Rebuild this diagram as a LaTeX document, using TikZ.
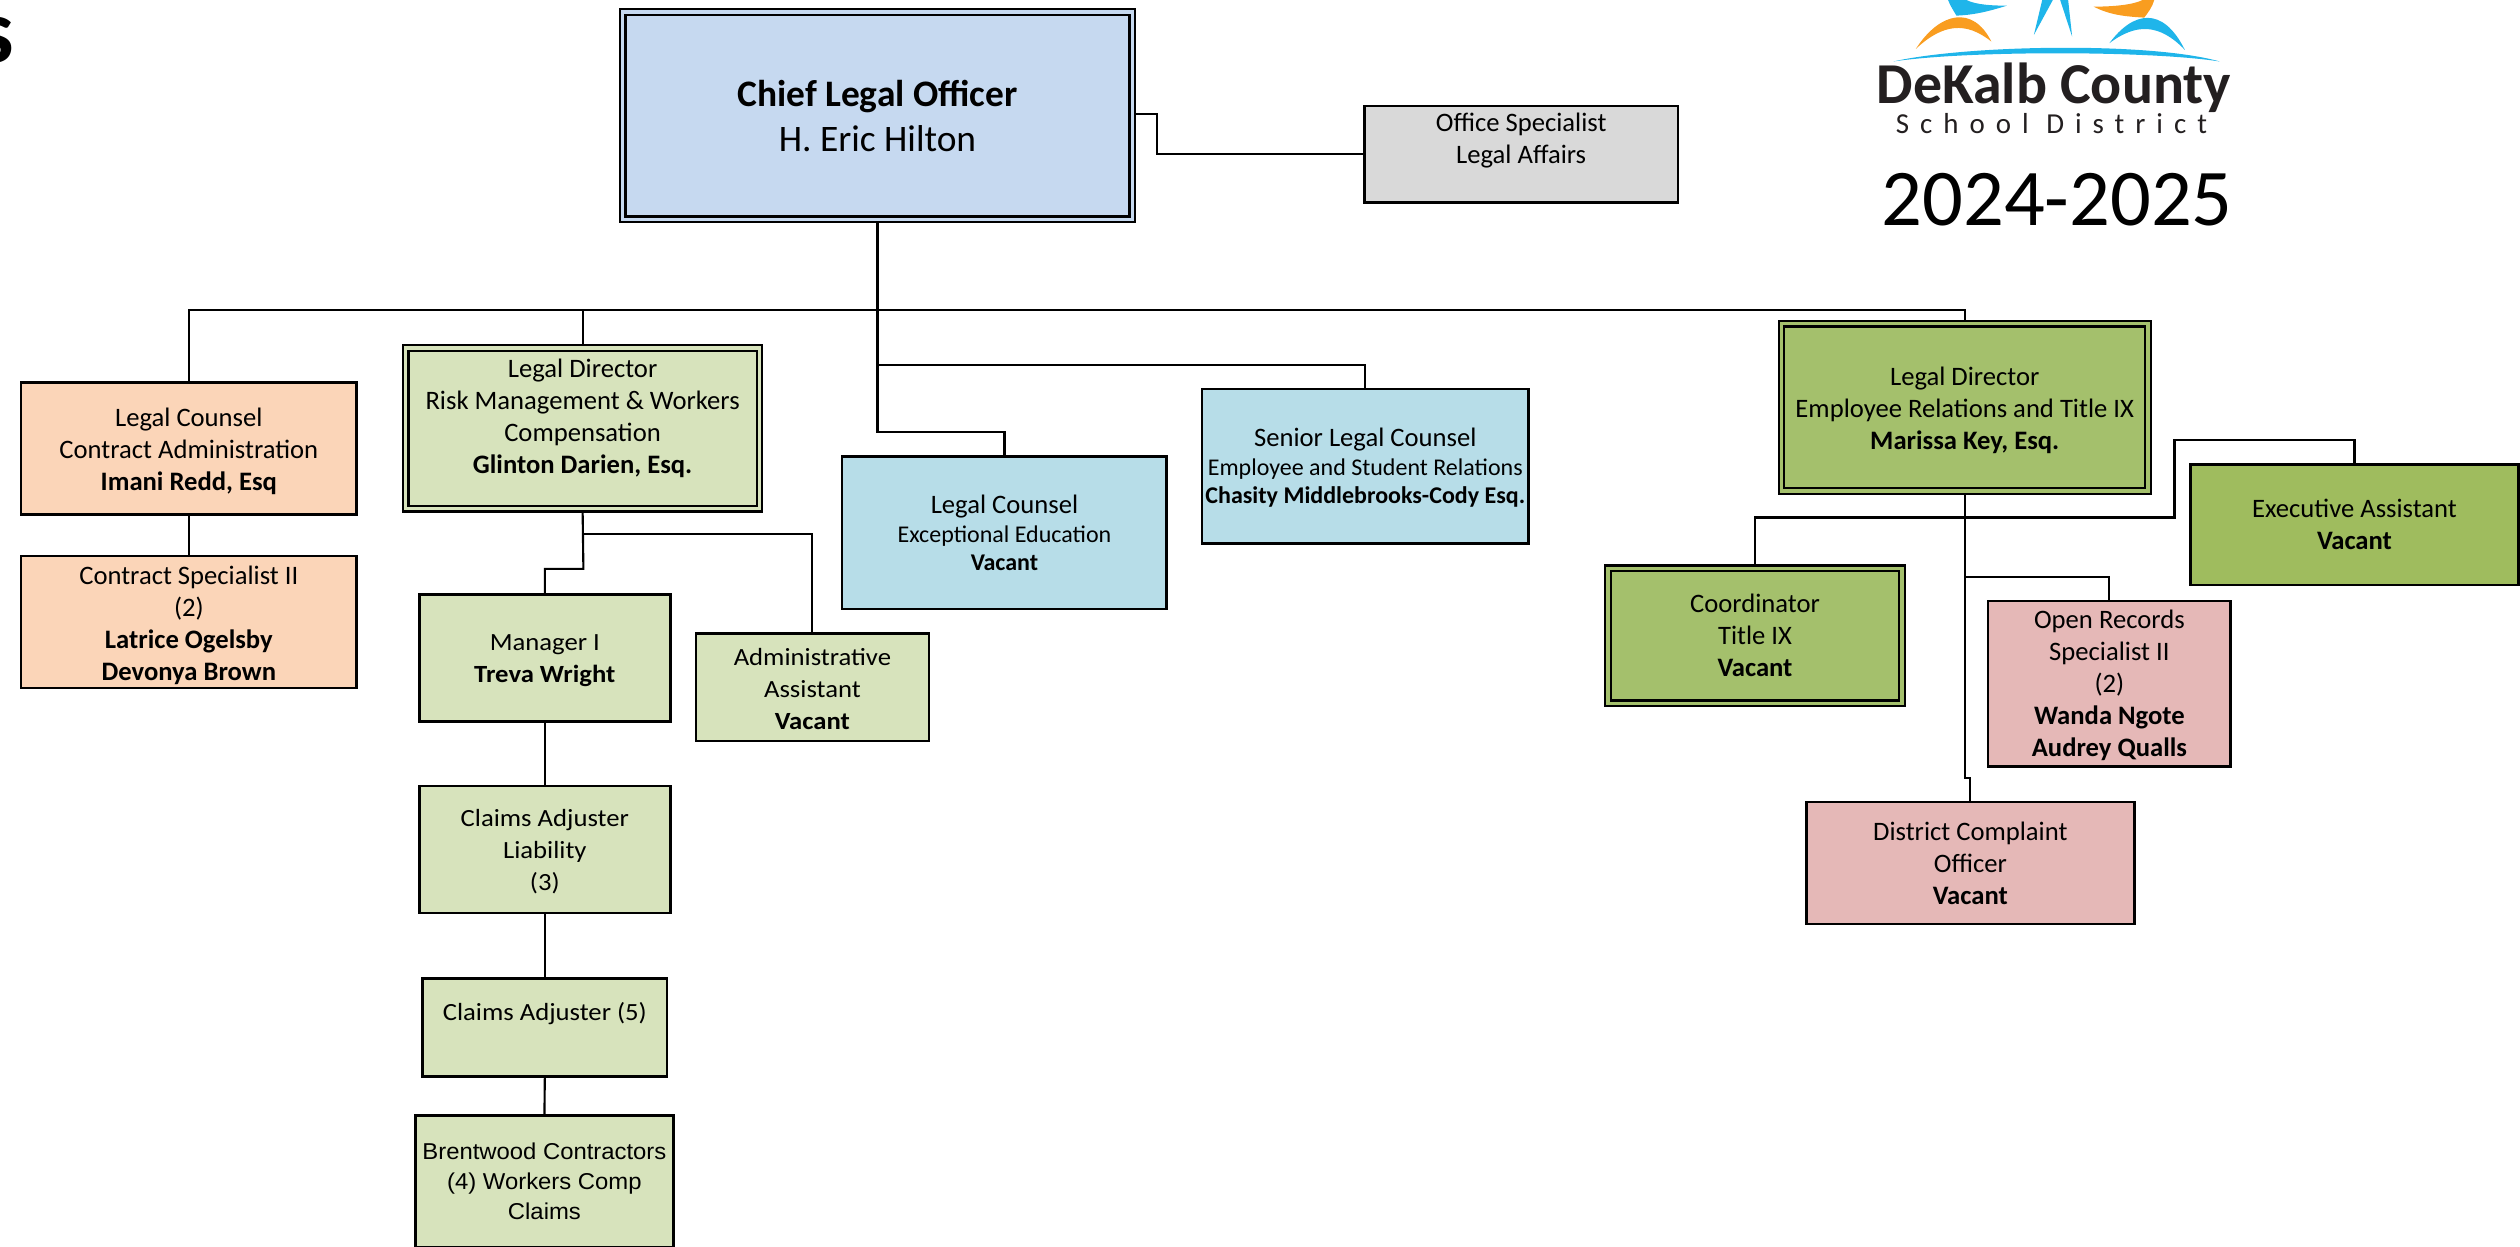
\documentclass[tikz,border=0pt]{standalone}
\usepackage{fontspec}
\setmainfont{Carlito}
\newfontfamily\widefont[FakeStretch=1.08]{Carlito}
\newfontfamily\arialwide[FakeStretch=1.04]{Liberation Sans}
\newfontfamily\logosp[LetterSpace=38]{Carlito}
\usetikzlibrary{backgrounds}
\definecolor{cblue}{HTML}{C6D9F0}
\definecolor{cgray}{HTML}{D9D9D9}
\definecolor{corange}{HTML}{FBD5B8}
\definecolor{clgreen}{HTML}{D7E3BC}
\definecolor{csky}{HTML}{B7DDE8}
\definecolor{cgreen}{HTML}{A4C06C}
\definecolor{cgreenb}{HTML}{9FBC5E}
\definecolor{cpink}{HTML}{E5B8B7}
\definecolor{logoblue}{HTML}{1FB5EA}
\definecolor{logoorange}{HTML}{F99D20}
\definecolor{logotext}{HTML}{231F20}
\newcommand\fs[1]{\fontsize{#1}{9.07}\selectfont}
\newcommand\tpa{\rule{0pt}{6.1pt}}
\newcommand\tpb{\rule{0pt}{7pt}}
\newcommand\bx[7]{%
  \pgfmathsetmacro\wa{(#5-#3)*0.016}%
  \pgfmathsetmacro\ha{(#6-#4)*0.016}%
  \node[box,#2,minimum width=\wa cm,minimum height=\ha cm] (#1) at ({(#3+#5)/2},{(#4+#6)/2}) {#7};}
\tikzset{
  box/.style={draw=black,line width=0.75pt,inner sep=0pt,outer sep=0pt,align=center,text=black,font=\fs{7.55}},
  dbl/.style={line width=0.65pt,double distance=0.9pt},
  link/.style={draw=black,line width=0.6pt},
  widetext/.style={font=\widefont\fs{7.0}}
}
\begin{document}
\begin{tikzpicture}[x=0.016cm,y=-0.016cm]
\useasboundingbox (0,0) rectangle (1568,775.3);
\clip (0,0) rectangle (1568,775.3);
% heading fragment
\node[inner sep=0pt,anchor=base east,font=\bfseries\fontsize{26}{30}\selectfont] (headfrag) at (9,39) {s};
% boxes
\bx{clo}{dbl,fill=cblue,double=cblue,font=\fs{10.6}\setlength{\baselineskip}{12.7pt}}{387.5}{7.5}{704.5}{136.5}{\textbf{Chief Legal Officer}\\[0pt]H. Eric Hilton}
\bx{off}{fill=cgray}{849}{66}{1044}{126}{Office Specialist\\Legal Affairs\\\mbox{}}
\bx{ca}{fill=corange}{13}{238}{222}{320}{\tpb Legal Counsel\\Contract Administration\\\textbf{Imani Redd, Esq}}
\bx{cs}{fill=corange}{13}{346}{222}{428}{\tpb Contract Specialist II\\(2)\\\textbf{Latrice Ogelsby}\\\textbf{Devonya Brown}}
\bx{ldr}{dbl,fill=clgreen,double=clgreen}{252.5}{216.5}{472.5}{316.5}{Legal Director\\Risk Management \& Workers\\Compensation\\\textbf{Glinton Darien, Esq.}\\[-2pt]\mbox{}}
\bx{mgr}{fill=clgreen,widetext}{261}{370}{417}{449}{\tpa Manager I\\\textbf{Treva Wright}}
\bx{adm}{fill=clgreen,widetext}{433}{394}{578}{461}{\tpa Administrative\\Assistant\\\textbf{Vacant}}
\bx{cal}{fill=clgreen,widetext}{261}{489}{417}{568}{\tpa Claims Adjuster\\Liability\\(3)}
\bx{cad}{fill=clgreen,widetext}{263}{609}{415}{670}{Claims Adjuster (5)\\\mbox{}}
\bx{bre}{fill=clgreen,font=\arialwide\fontsize{6.5}{8.4}\selectfont}{258.5}{694}{419}{776}{Brentwood Contractors\\(4) Workers Comp\\Claims}
\bx{lce}{fill=csky}{524}{284}{726}{379}{Legal Counsel\\[-.7pt]{\fs{6.8}Exceptional Education}\\[-1.2pt]{\fs{6.8}\textbf{Vacant}}}
\bx{slc}{fill=csky}{748}{242}{951}{338}{\tpa Senior Legal Counsel\\[-1pt]{\fs{6.8}Employee and Student Relations}\\[-1.2pt]{\fs{6.8}\textbf{Chasity Middlebrooks-Cody Esq.}}}
\bx{lde}{dbl,fill=cgreen,double=cgreen}{1108.5}{201.5}{1336.5}{305.5}{\tpb Legal Director\\Employee Relations and Title IX\\\textbf{Marissa Key, Esq.}}
\bx{exa}{fill=cgreenb}{1363}{289}{1567}{364}{Executive Assistant\\\textbf{Vacant}}
\bx{cor}{dbl,fill=cgreen,double=cgreen}{1000.5}{353.5}{1183.5}{437.5}{Coordinator\\Title IX\\\textbf{Vacant}}
\bx{ors}{fill=cpink}{1237}{374}{1388}{477}{\tpa Open Records\\Specialist II\\(2)\\\textbf{Wanda Ngote}\\\textbf{Audrey Qualls}}
\bx{dco}{fill=cpink}{1124}{499}{1328}{575}{District Complaint\\Officer\\\textbf{Vacant}}
% junctions
\coordinate (busy) at (546,193);
\coordinate (jslc) at (546,227);
\coordinate (jlce) at (546,269);
\coordinate (joffa) at (720,71);
\coordinate (joffb) at (720,96);
\coordinate (jmgr) at (363,354);
\coordinate (jmgrb) at (339,354);
\coordinate (jadm) at (363,332);
\coordinate (jors) at (1222.5,359);
\coordinate (jbus) at (1222.5,322);
\coordinate (jexa) at (1353,322);
\coordinate (jexb) at (1353,274);
\coordinate (jdco) at (1222.5,484);
\coordinate (jdcob) at (1226,484);
\begin{pgfonlayer}{background}
\draw[link] (clo.south) -- (jlce) -| (lce.north);
\draw[link] (ca.north) |- (busy);
\draw[link] (ldr.north) |- (busy);
\draw[link] (lde.north) |- (busy);
\draw[link] (slc.north) |- (jslc);
\draw[link] (clo.east |- joffa) -- (joffa) -- (joffb) -- (off.west);
\draw[link] (ca.south) -- (cs.north);
\draw[link] (ldr.south) -- (jmgr) -- (jmgrb) -- (mgr.north);
\draw[link] (adm.north) |- (jadm);
\draw[link] (mgr.south) -- (cal.north);
\draw[link] (cal.south) -- (cad.north);
\draw[link] (cad.south) -- (bre.north);
\draw[link] (lde.south) -- (jdco) -- (jdcob) -- (dco.north);
\draw[link] (ors.north) |- (jors);
\draw[link] (cor.north) |- (jbus) -- (jexa) -- (jexb) -| (exa.north);
\end{pgfonlayer}
% logo
\begin{scope}[shift={(1120.1,0)},x=0.003318cm,y=-0.003318cm]
\fill[logoblue] (280,185) .. controls (500,135) and (1050,125) .. (1262,185) .. controls (1050,152) and (500,152) .. cycle;
\fill[logoorange] (348,147) .. controls (420,35) and (520,15) .. (575,125) .. controls (500,65) and (430,70) .. cycle;
\fill[logoblue] (930,130) .. controls (1000,35) and (1090,15) .. (1157,150) .. controls (1080,70) and (1010,70) .. cycle;
\fill[logoblue] (445,0) -- (500,0) .. controls (530,15) and (580,17) .. (622,17) .. controls (580,30) and (530,45) .. (470,47) .. controls (460,30) and (450,15) .. cycle;
\fill[logoorange] (883,20) .. controls (940,20) and (1000,15) .. (1030,0) -- (1065,0) .. controls (1060,20) and (1045,40) .. (1035,53) .. controls (980,50) and (930,45) .. cycle;
\fill[logoblue] (728,0) -- (703,105) -- (760,0) -- cycle;
\fill[logoblue] (782,0) -- (818,110) -- (806,0) -- cycle;
\end{scope}
\node[inner sep=0pt,text=logotext,font=\bfseries\fontsize{16.4}{20}\selectfont] (logoname) at (1278,54.5) {DeKalb County};
\node[inner sep=0pt,text=logotext,font=\logosp\fontsize{8.2}{10}\selectfont] (logosub) at (1276.5,77) {School District};
\node[inner sep=0pt,font=\fontsize{22.8}{26}\selectfont] (year) at (1280,124) {2024-2025};
\end{tikzpicture}
\end{document}
